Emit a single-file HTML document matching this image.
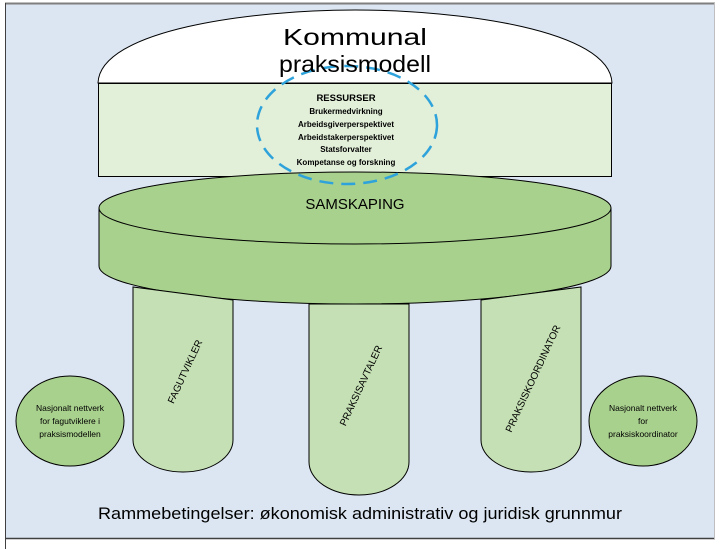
<!DOCTYPE html>
<html><head><meta charset="utf-8"><style>
html,body{margin:0;padding:0;background:#fff;}
svg{display:block;font-family:"Liberation Sans",sans-serif;}
</style></head><body>
<svg width="721" height="549" viewBox="0 0 721 549" xmlns="http://www.w3.org/2000/svg">
<rect x="5" y="3" width="710" height="536" fill="#dce6f2"/>
<line x1="5" y1="3.5" x2="715" y2="3.5" stroke="#7f7f7f" stroke-width="2"/>
<line x1="5.5" y1="3" x2="5.5" y2="549" stroke="#404040" stroke-width="1"/>
<line x1="5" y1="538.5" x2="715" y2="538.5" stroke="#404040" stroke-width="1.5"/>
<line x1="714.5" y1="3" x2="714.5" y2="539" stroke="#bfbfbf" stroke-width="1"/>
<path d="M98,83 C100,30 250,10 355,10 C460,10 610,30 612,83 Z" fill="#fff" stroke="#000" stroke-width="1"/>
<rect x="98.5" y="83.5" width="513" height="93" fill="#e2efd9" stroke="#000" stroke-width="1"/>
<path d="M99,208 L99,266 A256,38 0 0 0 611,266 L611,208 Z" fill="#a9d18e" stroke="#000" stroke-width="1"/>
<ellipse cx="355" cy="208" rx="256" ry="36" fill="#a9d18e" stroke="#000" stroke-width="1"/>
<ellipse cx="347" cy="125" rx="90" ry="59" fill="none" stroke="#2ea3db" stroke-width="2.5" stroke-dasharray="14,8"/>
<text x="355" y="45" font-size="23" text-anchor="middle" fill="#000" textLength="144" lengthAdjust="spacingAndGlyphs">Kommunal</text>
<text x="355" y="72" font-size="23" text-anchor="middle" fill="#000" textLength="152" lengthAdjust="spacingAndGlyphs">praksismodell</text>
<g font-size="8" font-weight="bold" text-anchor="middle" fill="#000">
<text x="346" y="101" font-size="9.5">RESSURSER</text>
<text x="346" y="114">Brukermedvirkning</text>
<text x="346" y="127">Arbeidsgiverperspektivet</text>
<text x="346" y="140">Arbeidstakerperspektivet</text>
<text x="346" y="152">Statsforvalter</text>
<text x="346" y="165">Kompetanse og forskning</text>
</g>
<text x="355" y="209" font-size="15" text-anchor="middle" fill="#000">SAMSKAPING</text>
<path d="M133,287 L133,440 A50,32 0 0 0 233,440 L233,300 Z" fill="#c5e0b4" stroke="#000" stroke-width="1"/>
<path d="M309,304 L309,462 A50,33 0 0 0 409,462 L409,304 Z" fill="#c5e0b4" stroke="#000" stroke-width="1"/>
<path d="M481,300 L481,440 A50,32 0 0 0 581,440 L581,287 Z" fill="#c5e0b4" stroke="#000" stroke-width="1"/>
<g font-size="10" fill="#000" text-anchor="middle">
<text transform="translate(188,373) rotate(-65)">FAGUTVIKLER</text>
<text transform="translate(364,387) rotate(-65)">PRAKSISAVTALER</text>
<text transform="translate(536,380) rotate(-65)">PRAKSISKOORDINATOR</text>
</g>
<ellipse cx="70" cy="421" rx="54" ry="45" fill="#a9d18e" stroke="#000" stroke-width="1"/>
<ellipse cx="643" cy="421" rx="54" ry="45" fill="#a9d18e" stroke="#000" stroke-width="1"/>
<g font-size="8.5" fill="#000" text-anchor="middle">
<text x="70" y="411">Nasjonalt nettverk</text>
<text x="70" y="424">for fagutviklere i</text>
<text x="70" y="437">praksismodellen</text>
<text x="643" y="411">Nasjonalt nettverk</text>
<text x="643" y="424">for</text>
<text x="643" y="437">praksiskoordinator</text>
</g>
<text x="360" y="519" font-size="17" text-anchor="middle" fill="#000" textLength="524" lengthAdjust="spacingAndGlyphs">Rammebetingelser: økonomisk administrativ og juridisk grunnmur</text>
</svg>
</body></html>
